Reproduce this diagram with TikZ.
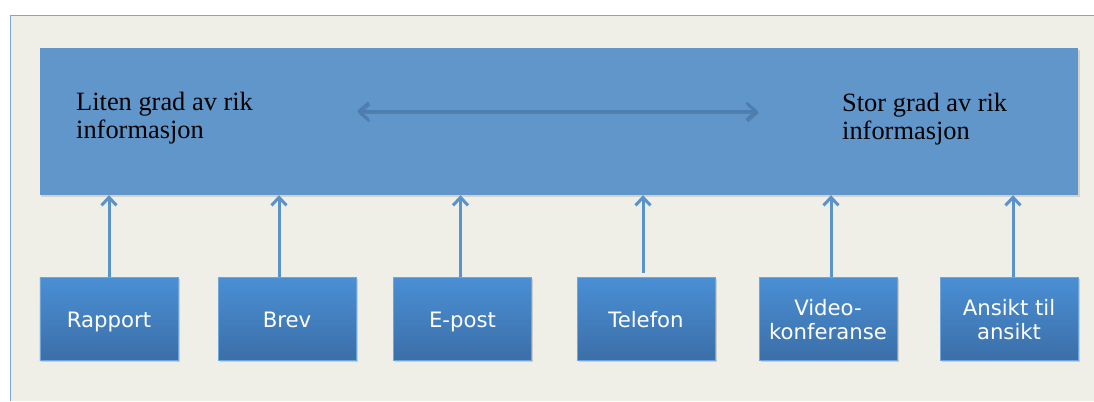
\documentclass[tikz,border=0pt]{standalone}
\usepackage{fontspec}
\setmainfont{Liberation Serif}
\newfontfamily\boxfont{DejaVu Sans}
\usetikzlibrary{arrows.meta,shadows}
\newcommand\tstrut{\rule[-7.05bp]{0pt}{32bp}}
\definecolor{bgbeige}{HTML}{EFEEE7}
\definecolor{framecol}{HTML}{7EA6D8}
\definecolor{bigblue}{HTML}{6196CA}
\definecolor{boxtop}{HTML}{4A8FD5}
\definecolor{boxbot}{HTML}{3B6FA8}
\definecolor{arrowblue}{HTML}{5A92CA}
\definecolor{darkarrow}{HTML}{4C7DB2}
\tikzset{
  bigbox/.style={fill=bigblue, draw=none, minimum width=1038bp, minimum height=147bp, inner sep=0pt,
    drop shadow={shadow xshift=1.5bp, shadow yshift=-2bp, opacity=0.25}},
  mediabox/.style={top color=boxtop, bottom color=boxbot, draw=boxtop!80!white, line width=0.5bp,
    minimum width=138bp, minimum height=83bp, inner sep=0pt, text=white, align=center,
    font=\boxfont\fontsize{21.3}{23.5}\selectfont,
    drop shadow={shadow xshift=1.5bp, shadow yshift=-2bp, opacity=0.3}},
  bigtext/.style={align=left, anchor=base west, font=\fontsize{26.5}{28.5}\selectfont, inner sep=0pt},
  uparrow/.style={draw=arrowblue, line width=3bp, -{Straight Barb[length=8bp,width=15bp,line width=3bp]}},
  richarrow/.style={draw=darkarrow, line width=2.2bp, {Straight Barb[length=10bp,width=17bp]}-{Straight Barb[length=10bp,width=17bp]}}
}
\begin{document}
\begin{tikzpicture}[x=1bp,y=-1bp]
\useasboundingbox (0,0) rectangle (1094,401);
\fill[white] (0,0) rectangle (1094,401);
\fill[bgbeige] (10,15) rectangle (1094,401);
\draw[framecol, line width=1bp] (10,401) -- (10,15) -- (1094,15);

\node[bigbox] (top) at (559,121.5) {};
\node[bigtext] (lefttext) at (76,138.5) {Liten grad av rik\\informasjon};
\node[bigtext] (righttext) at (842,139.5) {Stor grad av rik\\informasjon};

\coordinate (la) at (357,111);
\coordinate (ra) at (758,111);
\draw[richarrow, draw=black, opacity=0.15, transform canvas={shift={(1bp,-2bp)}}] (la) -- (ra);
\draw[richarrow] (la) -- (ra);

\node[mediabox] (b1) at (109,318.5) {\tstrut Rapport};
\node[mediabox] (b2) at (287,318.5) {\tstrut Brev};
\node[mediabox] (b3) at (462.5,318.5) {\tstrut E-post};
\node[mediabox] (b4) at (646,318.5) {\tstrut Telefon};
\node[mediabox] (b5) at (828,318.5) {\tstrut Video-\\\strut konferanse};
\node[mediabox] (b6) at (1009,318.5) {\tstrut Ansikt til\\\strut ansikt};

\draw[uparrow] (b1.north) -- (b1.north |- top.south);
\draw[uparrow] ([xshift=-8bp]b2.north) -- ([xshift=-8bp]b2.north |- top.south);
\draw[uparrow] ([xshift=-2bp]b3.north) -- ([xshift=-2bp]b3.north |- top.south);
\draw[uparrow] ([xshift=-3bp,yshift=4bp]b4.north) -- ([xshift=-3bp]b4.north |- top.south);
\draw[uparrow] ([xshift=3bp]b5.north) -- ([xshift=3bp]b5.north |- top.south);
\draw[uparrow] ([xshift=4bp]b6.north) -- ([xshift=4bp]b6.north |- top.south);
\end{tikzpicture}
\end{document}
